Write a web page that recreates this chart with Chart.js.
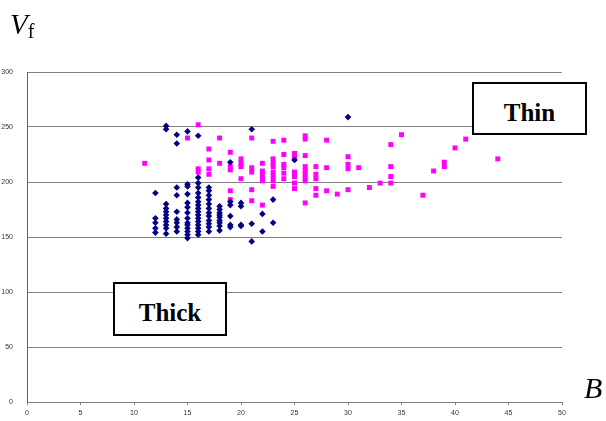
<!DOCTYPE html>
<html><head><meta charset="utf-8">
<script src="https://cdn.jsdelivr.net/npm/chart.js@4"></script>
<style>
html,body{margin:0;padding:0;background:#fff;}
#wrap{position:relative;width:606px;height:421px;overflow:hidden;}
canvas{display:block}
.lbl{position:absolute;font-family:"Liberation Serif","Times New Roman",serif;color:#000;line-height:1;}
.box{position:absolute;box-sizing:border-box;border:2px solid #000;background:#fff;display:flex;align-items:center;justify-content:center;font-family:"Liberation Serif","Times New Roman",serif;font-weight:bold;font-size:25px;color:#000;padding-top:8px;}
</style></head><body>
<div id="wrap"><canvas id="c" width="606" height="421"></canvas>
<div class="lbl" style="left:10px;top:10px;font-size:29px;"><i>V</i><span style="font-size:20px;position:relative;top:4px;">f</span></div>
<div class="lbl" style="left:584px;top:373px;font-size:30px;"><i>B</i></div>
<div class="box" style="left:113px;top:282px;width:114px;height:54px;">Thick</div>
<div class="box" style="left:472px;top:82px;width:115px;height:53px;">Thin</div>
</div>
<script>
const xTicks = [0,5,10,15,20,25,30,35,40,45,50];
const yTicks = [0,50,100,150,200,250,300];

const thickB = [12,12,12,12,12,
 13,13,13,13,13,13,13,13,13,13,13,
 14,14,14,14,14,14,14,14,14,
 15,15,15,15,15,15,15,15,15,15,15,15,15,15,
 16,16,16,16,16,16,16,16,16,16,16,16,16,16,16,16,16,
 17,17,17,17,17,17,17,17,17,17,17,17,
 18,18,18,18,18,18,18,18,18,
 19,19,19,19,19,19,
 20,20,20,20,
 21,21,21,
 22,22,
 23,23,
 25,30];
const thickV = [190,167,163,158,154,
 251,248,180,176,173,170,167,164,161,158,153,
 243,235,195,188,173,166,163,159,155,
 246,198,196,189,181,177,172,167,163,161,158,155,152,149,
 242,204,199,195,190,186,182,179,176,173,170,167,164,161,158,155,152,
 195,192,188,184,180,176,172,169,165,162,159,155,
 178,175,172,170,168,165,163,160,156,
 218,182,179,169,161,159,
 181,178,161,160,
 248,162,146,
 171,155,
 184,163,
 220,259];

const thinB = [11,15,16,16,16,
 17,17,17,17,
 18,18,
 19,19,19,19,19,
 20,20,20,20,
 21,21,21,21,21,
 22,22,22,22,22,22,
 23,23,23,23,23,23,23,23,
 24,24,24,24,24,24,
 25,25,25,25,25,25,25,
 26,26,26,26,26,26,26,26,26,
 27,27,27,27,27,
 28,28,28,
 29,
 30,30,30,30,
 31,32,33,
 34,34,34,34,
 35,37,38,39,39,40,41,44];
const thinV = [217,240,252,212,209,
 230,220,212,207,
 240,217,
 227,214,211,192,184,
 221,217,214,203,
 240,213,209,193,183,
 217,210,206,203,201,179,
 237,221,217,214,209,205,201,196,
 238,225,216,213,208,203,
 226,223,209,207,205,199,194,
 242,239,224,214,210,207,204,201,181,
 214,207,203,194,188,
 238,213,192,
 189,
 223,216,212,193,
 213,195,199,
 234,214,205,199,
 243,188,210,218,214,231,239,221];

const toPts = (xs, ys) => xs.map((x, i) => ({x: x, y: ys[i]}));
const tickFont = {size: 7, family: "'Liberation Sans', Arial, sans-serif"};

new Chart(document.getElementById('c'), {
  type: 'scatter',
  data: {
    datasets: [
      {label: 'Thick', data: toPts(thickB, thickV), pointStyle: 'rectRot', pointRadius: 3.3,
       backgroundColor: '#000080', borderColor: '#000080', borderWidth: 0},
      {label: 'Thin', data: toPts(thinB, thinV), pointStyle: 'rect', pointRadius: 3.5,
       backgroundColor: '#FF00FF', borderColor: '#FF00FF', borderWidth: 0}
    ]
  },
  options: {
    responsive: false, animation: false, events: [],
    layout: {padding: {top: 72, right: 44, left: 0, bottom: 0}},
    plugins: {legend: {display: false}, tooltip: {enabled: false}},
    scales: {
      x: {
        type: 'linear', min: 0, max: 50,
        afterBuildTicks: s => { s.ticks = xTicks.map(v => ({value: v})); },
        grid: {drawOnChartArea: false, drawTicks: true, tickLength: 3, color: '#808080'},
        border: {color: '#808080'},
        ticks: {font: tickFont, color: '#333', padding: 4, maxRotation: 0, autoSkip: false},
        afterFit: s => { s.height = 19; }
      },
      y: {
        type: 'linear', min: 0, max: 300,
        afterBuildTicks: s => { s.ticks = yTicks.map(v => ({value: v})); },
        grid: {color: '#808080', drawTicks: false},
        border: {color: '#606060'},
        ticks: {font: tickFont, color: '#333', padding: 14, autoSkip: false},
        afterFit: s => { s.width = 27; }
      }
    }
  }
});
</script>
</body></html>
